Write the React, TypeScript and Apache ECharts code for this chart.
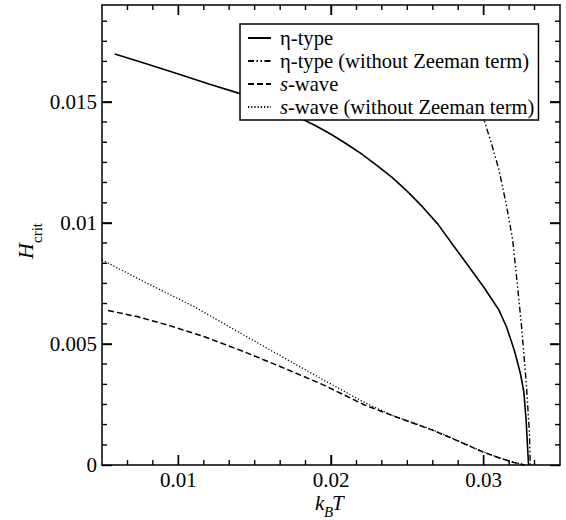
import React, { useEffect, useRef } from "react";
import * as echarts from "echarts";

// ---- data ----
const etaT = [0.00584, 0.008, 0.010, 0.012, 0.014, 0.016, 0.018, 0.019, 0.020, 0.021, 0.022, 0.023, 0.024, 0.025, 0.026, 0.027, 0.028, 0.029, 0.030, 0.031, 0.0315, 0.032, 0.0324, 0.03263, 0.03278, 0.03294];
const etaH = [0.01698, 0.01655, 0.01615, 0.01574, 0.01535, 0.01488, 0.01432, 0.01401, 0.01366, 0.01327, 0.01285, 0.01238, 0.01188, 0.0113, 0.01066, 0.00995, 0.00908, 0.00822, 0.00735, 0.0064, 0.0057, 0.00475, 0.0038, 0.00303, 0.00186, 0];

const etaNzT = [0.0296, 0.0300, 0.0305, 0.0310, 0.0315, 0.0319, 0.0322, 0.0325, 0.0328, 0.0330, 0.03305];
const etaNzH = [0.0152, 0.0143, 0.0133, 0.0122, 0.0107, 0.0093, 0.0075, 0.0056, 0.0033, 0.0013, 0];

const sT = [0.0054, 0.0073, 0.0093, 0.0117, 0.0143, 0.0167, 0.0195, 0.0222, 0.0245, 0.0266, 0.0280, 0.0299, 0.0310, 0.0320, 0.0327];
const sH = [0.00638, 0.00613, 0.00578, 0.0053, 0.00468, 0.00406, 0.00331, 0.00248, 0.00193, 0.00145, 0.00108, 0.00055, 0.0003, 0.0001, 0];

const sNzT = [0.005, 0.00776, 0.01103, 0.01429, 0.01756, 0.01952, 0.0222, 0.0240, 0.0266, 0.0280, 0.0299, 0.0310, 0.0320, 0.0327];
const sNzH = [0.00847, 0.00757, 0.00654, 0.00537, 0.0042, 0.00351, 0.00258, 0.00205, 0.00147, 0.00109, 0.00056, 0.0003, 0.0001, 0];

const seriesNames = [
  "η-type",
  "η-type (without Zeeman term)",
  "s-wave",
  "s-wave (without Zeeman term)",
];

// axis ranges and tick values
const X_MIN = 0.005;
const X_MAX = 0.035;
const xMajorTicks = [0.01, 0.02, 0.03];
const xMinorTicks = [0.00667, 0.00833, 0.01167, 0.01333, 0.015, 0.01667, 0.01833, 0.02167, 0.02333, 0.025, 0.02667, 0.02833, 0.03167, 0.03333];
const Y_MIN = 0;
const Y_MAX = 0.019;
const yMajorTicks = [0, 0.005, 0.01, 0.015];
const yMinorTicks = [0.00083, 0.00167, 0.0025, 0.00333, 0.00417, 0.00583, 0.00667, 0.0075, 0.00833, 0.00917, 0.01083, 0.01167, 0.0125, 0.01333, 0.01417, 0.01583, 0.01667, 0.0175, 0.01833];

const FONT = "Liberation Serif";

const pairs = (xs: number[], ys: number[]) => xs.map((x, i) => [x, ys[i]]);

export default function App() {
  const ref = useRef<HTMLDivElement>(null);

  useEffect(() => {
    document.body.style.margin = "0";
    if (!ref.current) return;
    const chart = echarts.init(ref.current, undefined, { renderer: "svg" });

    const axis = (kind: "x" | "y", position: string, ticks: number[], labels: boolean) => ({
      type: "value",
      position,
      min: kind === "x" ? X_MIN : Y_MIN,
      max: kind === "x" ? X_MAX : Y_MAX,
      axisLine: { show: true, onZero: false, lineStyle: { color: "#000", width: 1.5 } },
      axisTick: { show: true, inside: true, length: 10, customValues: ticks, lineStyle: { color: "#000", width: 1.4 } },
      axisLabel: labels
        ? { show: true, customValues: ticks, margin: kind === "x" ? 4 : 5, fontFamily: FONT, fontSize: 21, color: "#000" }
        : { show: false },
      splitLine: { show: false },
    });

    const mk = (name: string, xs: number[], ys: number[], type: any, width: number) => ({
      name,
      type: "line",
      data: pairs(xs, ys),
      symbol: "none",
      showSymbol: false,
      color: "#000",
      lineStyle: { color: "#000", width, type },
      itemStyle: { color: "#000" },
    });

    // tick marks on all four sides, placed with the axes' own scale
    const tickSeries = (values: number[], dir: "x" | "y", len: number) => ({
      type: "custom",
      coordinateSystem: "cartesian2d",
      silent: true,
      clip: false,
      z: 5,
      data: values.map((v) => (dir === "x" ? [v, Y_MIN] : [X_MIN, v])),
      encode: { x: 0, y: 1 },
      renderItem: (params: any, api: any) => {
        const cs = params.coordSys;
        const p = api.coord([api.value(0), api.value(1)]);
        const st = { stroke: "#000", lineWidth: 1.4 };
        if (dir === "x") {
          const b = cs.y + cs.height;
          const t = cs.y;
          return {
            type: "group",
            children: [
              { type: "line", shape: { x1: p[0], y1: b, x2: p[0], y2: b - len }, style: st },
              { type: "line", shape: { x1: p[0], y1: t, x2: p[0], y2: t + len }, style: st },
            ],
          };
        }
        const l = cs.x;
        const r = cs.x + cs.width;
        return {
          type: "group",
          children: [
            { type: "line", shape: { x1: l, y1: p[1], x2: l + len, y2: p[1] }, style: st },
            { type: "line", shape: { x1: r, y1: p[1], x2: r - len, y2: p[1] }, style: st },
          ],
        };
      },
    });

    const txt = (text: string, x: number, y: number, size: number, italic: boolean) => ({
      type: "text",
      x,
      y,
      style: { text, fontFamily: FONT, fontSize: size, fontStyle: italic ? "italic" : "normal", fill: "#000", verticalAlign: "middle" },
    });

    const option: any = {
      animation: false,
      grid: { left: 102, top: 5, width: 458, height: 460 },
      xAxis: [axis("x", "bottom", xMajorTicks, true), axis("x", "top", xMajorTicks, false)],
      yAxis: [axis("y", "left", yMajorTicks, true), axis("y", "right", yMajorTicks, false)],
      legend: {
        show: true,
        data: seriesNames,
        orient: "vertical",
        left: 240,
        top: 24,
        padding: [3, 4, 2, 7],
        itemWidth: 23,
        itemHeight: 14,
        itemGap: 1,
        borderColor: "#000",
        borderWidth: 1.5,
        borderRadius: 0,
        backgroundColor: "#fff",
        z: 10,
        selectedMode: false,
        itemStyle: { opacity: 0 },
        formatter: (name: string) => (name.startsWith("s-") ? "{i|s}" + name.slice(1) : name),
        textStyle: {
          fontFamily: FONT,
          fontSize: 20.6,
          color: "#000",
          lineHeight: 22,
          padding: [0, 0, 0, 4],
          rich: { i: { fontFamily: FONT, fontSize: 20.6, fontStyle: "italic", color: "#000", lineHeight: 22 } },
        },
      },
      series: [
        mk(seriesNames[0], etaT, etaH, "solid", 1.6),
        mk(seriesNames[1], etaNzT, etaNzH, [6, 2.5, 1.5, 2.5, 1.5, 2.5], 1.4),
        mk(seriesNames[2], sT, sH, [6, 3], 1.5),
        mk(seriesNames[3], sNzT, sNzH, [1.2, 2], 1.3),
        tickSeries(xMajorTicks, "x", 10),
        tickSeries(xMinorTicks, "x", 5),
        tickSeries(yMajorTicks.filter((v) => v > Y_MIN), "y", 10),
        tickSeries(yMinorTicks, "y", 5),
      ],
      graphic: [
        {
          type: "group",
          x: 33,
          y: 259,
          rotation: Math.PI / 2,
          children: [txt("H", 0, -7.5, 22, true), txt("crit", 16, 4, 15, false)],
        },
        txt("k", 315, 503, 21, true),
        txt("B", 324, 512, 15, true),
        txt("T", 332, 503, 21, true),
      ],
    };

    chart.setOption(option);
    return () => chart.dispose();
  }, []);

  return <div ref={ref} style={{ width: 566, height: 520 }} />;
}
